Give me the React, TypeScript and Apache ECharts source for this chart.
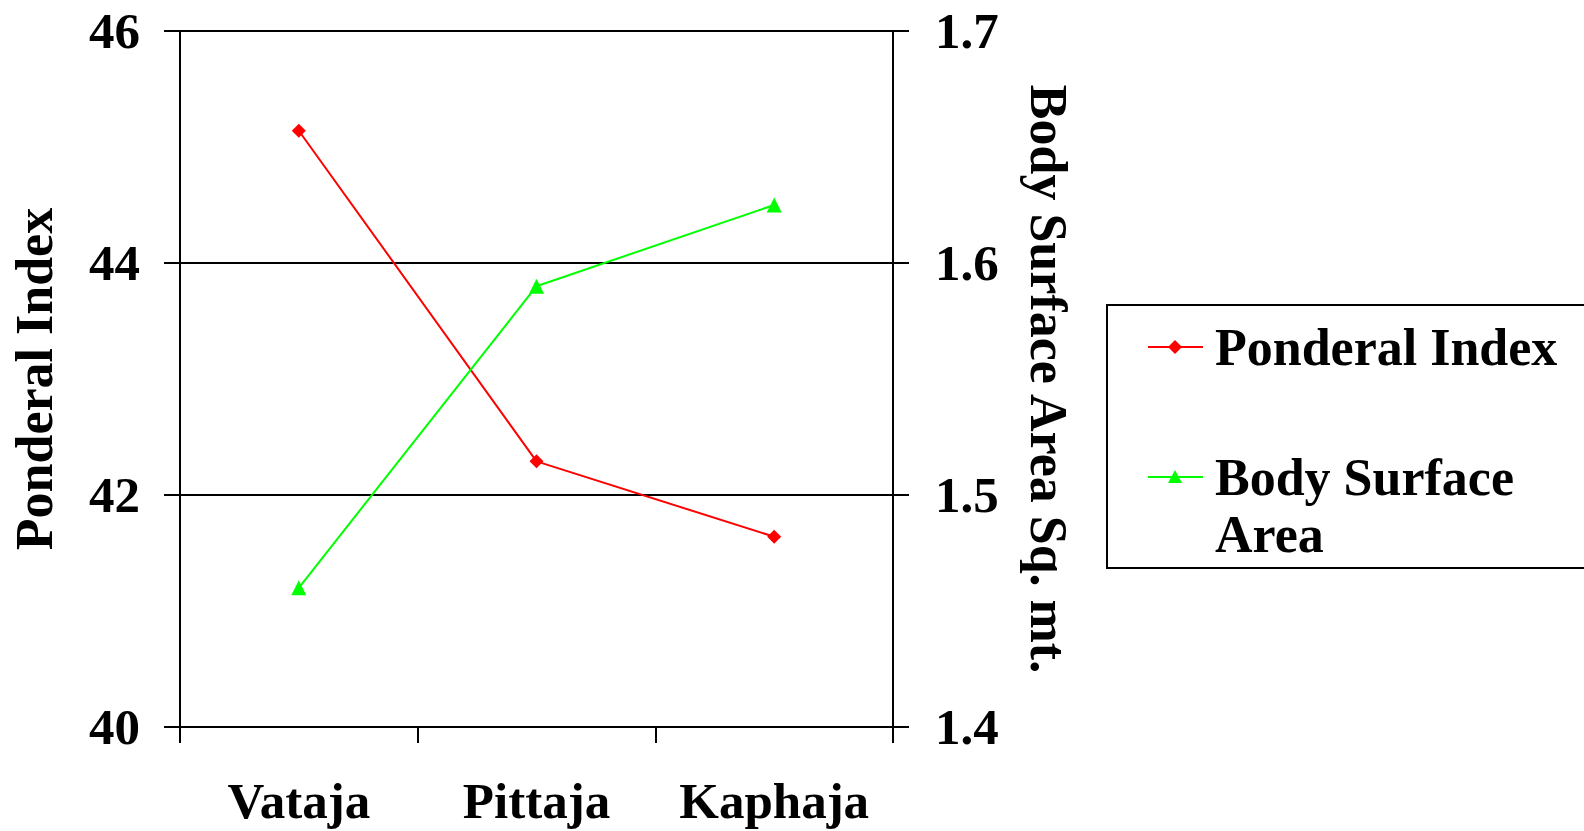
import React, { useEffect, useRef } from "react";
import * as echarts from "echarts";

const categories = ["Vataja", "Pittaja", "Kaphaja"];
const seriesNames = ["Ponderal Index", "Body Surface Area"];
const ponderalIndex = [45.14, 42.29, 41.64];
const bodySurfaceArea = [1.46, 1.59, 1.625];
const leftAxisName = "Ponderal Index";
const rightAxisName = "Body Surface Area Sq. mt.";

const FONT = "Liberation Serif, Times New Roman, serif";

export default function App() {
  const ref = useRef<HTMLDivElement>(null);
  useEffect(() => {
    if (!ref.current) return;
    const chart = echarts.init(ref.current, null, { renderer: "svg" });
    const textBase = { fontFamily: FONT, fontWeight: "bold", color: "#000" };
    const option: any = {
      animation: false,
      backgroundColor: "#fff",
      grid: { left: 180, right: 691, top: 31, bottom: 104, containLabel: false },
      xAxis: {
        type: "category",
        data: categories,
        boundaryGap: true,
        axisLine: { lineStyle: { color: "#000", width: 2 } },
        axisTick: { show: true, interval: 0, length: 16, lineStyle: { color: "#000", width: 2 } },
        axisLabel: { ...textBase, fontSize: 51, margin: 48, interval: 0, hideOverlap: false },
      },
      yAxis: [
        {
          type: "value",
          min: 40,
          max: 46,
          interval: 2,
          position: "left",
          name: leftAxisName,
          nameLocation: "middle",
          nameGap: 120,
          nameTextStyle: { ...textBase, fontSize: 52 },
          axisLine: { show: true, lineStyle: { color: "#000", width: 2 } },
          axisTick: { show: true, length: 16, lineStyle: { color: "#000", width: 2 } },
          axisLabel: { ...textBase, fontSize: 51, margin: 40 },
          splitLine: { show: true, lineStyle: { color: "#000", width: 2 } },
        },
        {
          type: "value",
          min: 1.4,
          max: 1.7,
          interval: 0.1,
          position: "right",
          name: rightAxisName,
          nameLocation: "middle",
          nameGap: 129,
          nameRotate: -90,
          nameTextStyle: { ...textBase, fontSize: 52 },
          axisLine: { show: true, lineStyle: { color: "#000", width: 2 } },
          axisTick: { show: true, length: 16, lineStyle: { color: "#000", width: 2 } },
          axisLabel: { ...textBase, fontSize: 51, margin: 42, formatter: (v: number) => v.toFixed(1) },
          splitLine: { show: false },
        },
      ],
      series: [
        {
          name: seriesNames[0],
          type: "line",
          yAxisIndex: 0,
          data: ponderalIndex,
          symbol: "diamond",
          symbolSize: 14,
          lineStyle: { color: "#ff0000", width: 2 },
          itemStyle: { color: "#ff0000" },
        },
        {
          name: seriesNames[1],
          type: "line",
          yAxisIndex: 1,
          data: bodySurfaceArea,
          symbol: "triangle",
          symbolSize: 15,
          lineStyle: { color: "#00ff00", width: 2 },
          itemStyle: { color: "#00ff00" },
        },
      ],
      graphic: [
        {
          type: "rect",
          shape: { x: 1107, y: 305, width: 500, height: 263 },
          style: { fill: "#fff", stroke: "#000", lineWidth: 2 },
        },
        {
          type: "line",
          shape: { x1: 1148, y1: 347, x2: 1203, y2: 347 },
          style: { stroke: "#ff0000", lineWidth: 2 },
        },
        {
          type: "polygon",
          shape: { points: [[1175, 340], [1182, 347], [1175, 354], [1168, 347]] },
          style: { fill: "#ff0000" },
        },
        {
          type: "text",
          x: 1215,
          y: 347,
          style: { text: seriesNames[0], font: `bold 52px ${FONT}`, fill: "#000", verticalAlign: "middle" },
        },
        {
          type: "line",
          shape: { x1: 1148, y1: 477, x2: 1203, y2: 477 },
          style: { stroke: "#00ff00", lineWidth: 2 },
        },
        {
          type: "polygon",
          shape: { points: [[1175, 470], [1182, 483], [1168, 483]] },
          style: { fill: "#00ff00" },
        },
        {
          type: "text",
          x: 1215,
          y: 477,
          style: { text: "Body Surface", font: `bold 52px ${FONT}`, fill: "#000", verticalAlign: "middle" },
        },
        {
          type: "text",
          x: 1215,
          y: 534,
          style: { text: "Area", font: `bold 52px ${FONT}`, fill: "#000", verticalAlign: "middle" },
        },
      ],
    };
    chart.setOption(option);
    return () => chart.dispose();
  }, []);
  return (
    <div
      ref={ref}
      style={{ position: "fixed", left: 0, top: 0, width: 1584, height: 831, background: "#fff" }}
    />
  );
}
